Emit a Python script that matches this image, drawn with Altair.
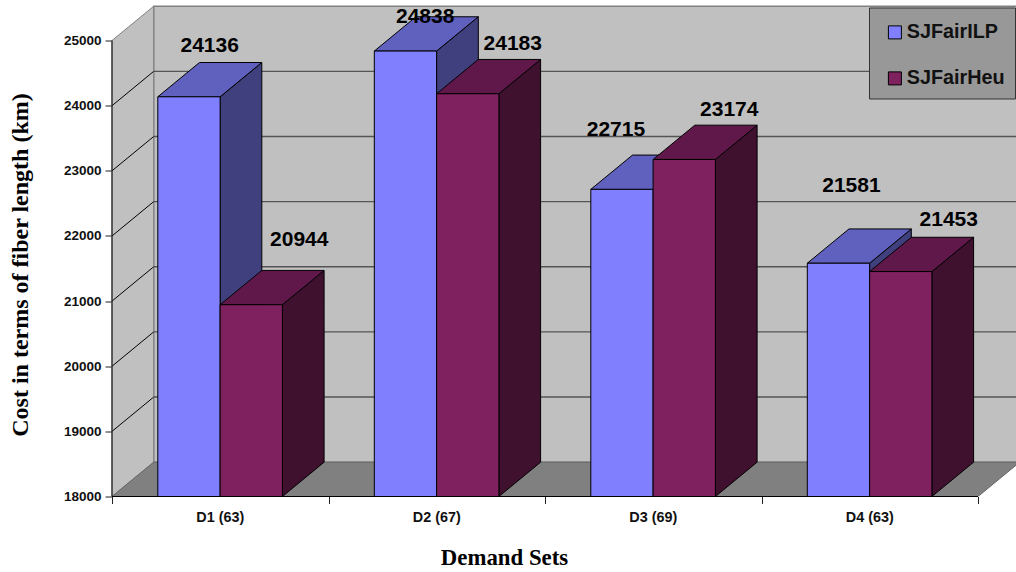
import altair as alt
import pandas as pd

# Chart values
categories = ["D1 (63)", "D2 (67)", "D3 (69)", "D4 (63)"]
series_names = ["SJFairILP", "SJFairHeu"]
sjfair_ilp = [24136, 24838, 22715, 21581]
sjfair_heu = [20944, 24183, 23174, 21453]
y_ticks = [18000, 19000, 20000, 21000, 22000, 23000, 24000, 25000]

# Pseudo-3D geometry, in axis units
CAT_PX = 216.5
PX_PER_1000 = 65.14
PLOT_W, PLOT_H = 904, 496
DEPTH_X = 41.7 / CAT_PX
DEPTH_Y = 34.3 / PX_PER_1000 * 1000
GAP = 45.8 / CAT_PX
BAR_W = 62.3 / CAT_PX
Y0 = y_ticks[0]
YN = y_ticks[-1]
N = len(categories)

FACE_COLORS = {
    "SJFairILP": {"front": "#8080FF", "top": "#6060BF", "side": "#40407F"},
    "SJFairHeu": {"front": "#7F205F", "top": "#60184A", "side": "#40102F"},
}
# Hand-placed value labels: pixel nudge from the top of each front face
NUDGE = {
    "SJFairILP": [(20.7, -50.5), (19.7, -34.5), (-6, -59.5), (13, -77.5)],
    "SJFairHeu": [(48, -64.5), (45, -49.5), (45, -49.5), (48, -51.5)],
}

x_scale = alt.Scale(domain=[0, PLOT_W / CAT_PX], nice=False, zero=False)
y_scale = alt.Scale(domain=[Y0, Y0 + PLOT_H / PX_PER_1000 * 1000], nice=False, zero=False)

axis_x = alt.Axis(
    values=list(range(N + 1)),
    labels=False,
    grid=False,
    domain=False,
    tickColor="#222222",
    tickSize=7,
    title="Demand Sets",
    titleFont="Liberation Serif",
    titleFontSize=22.8,
    titleFontWeight="bold",
    titleColor="#000000",
    titleAnchor="start",
    titleAlign="center",
    titleBaseline="middle",
    titleX=392,
    titleY=61,
)
axis_y = alt.Axis(
    values=y_ticks,
    grid=False,
    domain=False,
    tickColor="#222222",
    tickSize=7,
    labelFont="Liberation Sans",
    labelFontWeight="bold",
    labelFontSize=13.5,
    labelColor="#111111",
    labelPadding=4,
    format="d",
    title="Cost in terms of fiber length (km)",
    titleFont="Liberation Serif",
    titleFontSize=24,
    titleFontWeight="bold",
    titleColor="#000000",
    titleAnchor="start",
    titleAlign="center",
    titleBaseline="middle",
    titleAngle=270,
    titleX=-92,
    titleY=264,
)


def X(field="x", **kw):
    return alt.X(f"{field}:Q", scale=x_scale, axis=axis_x, **kw)


def Y(field="y", **kw):
    return alt.Y(f"{field}:Q", scale=y_scale, axis=axis_y, **kw)


def sheared(x0, x1, low, high):
    """Rows of a face whose horizontal edges lean by the chart depth."""
    return pd.DataFrame(
        [
            {"x": x0, "x2": x1, "y": low},
            {"x": x0 + DEPTH_X, "x2": x1 + DEPTH_X, "y": high},
        ]
    )


def hface(df, color, **mark):
    return (
        alt.Chart(df)
        .mark_area(orient="horizontal", color=color, **mark)
        .encode(y=Y(stack=None), x=X(stack=None), x2="x2:Q", detail="g:N")
    )


def vface(df, color, **mark):
    return (
        alt.Chart(df)
        .mark_area(orient="vertical", color=color, **mark)
        .encode(x=X(stack=None), y=Y(stack=None), y2="y2:Q", detail="g:N")
    )


# Walls and floor
back_wall = pd.DataFrame(
    [{"x": DEPTH_X, "x2": N + DEPTH_X, "y": Y0 + DEPTH_Y, "y2": YN + DEPTH_Y}]
)
layers = [
    alt.Chart(back_wall)
    .mark_rect(color="#C0C0C0", stroke="#808080", strokeWidth=1.5, clip=True)
    .encode(x=X(), x2="x2:Q", y=Y(), y2="y2:Q")
]

left_wall = pd.DataFrame(
    [
        {"x": 0, "y": Y0, "y2": YN, "g": "w"},
        {"x": DEPTH_X, "y": Y0 + DEPTH_Y, "y2": YN + DEPTH_Y, "g": "w"},
    ]
)
layers.append(vface(left_wall, "#C0C0C0", stroke="#808080", strokeWidth=1))

floor = sheared(0, N, Y0, Y0 + DEPTH_Y).assign(g="f")
layers.append(hface(floor, "#808080", stroke="#666666", strokeWidth=1, clip=True))

# Gridlines: one run across the left wall, one along the back wall
grid_levels = [v for v in y_ticks if Y0 < v < YN]
wall_rows, back_rows = [], []
for v in grid_levels:
    wall_rows += [{"x": 0, "y": v, "g": v, "k": 0}, {"x": DEPTH_X, "y": v + DEPTH_Y, "g": v, "k": 1}]
    back_rows += [
        {"x": DEPTH_X, "y": v + DEPTH_Y, "g": v, "k": 0},
        {"x": N + DEPTH_X, "y": v + DEPTH_Y, "g": v, "k": 1},
    ]
layers.append(
    alt.Chart(pd.DataFrame(wall_rows))
    .mark_line(color="#000000", strokeWidth=1)
    .encode(x=X(), y=Y(), detail="g:N", order="k:Q")
)
layers.append(
    alt.Chart(pd.DataFrame(back_rows))
    .mark_line(color="#555555", strokeWidth=1.4, clip=True)
    .encode(x=X(), y=Y(), detail="g:N", order="k:Q")
)

# Bars, back to front within each group
records = []
for i, cat in enumerate(categories):
    for s, (name, vals) in enumerate(zip(series_names, (sjfair_ilp, sjfair_heu))):
        left = i + GAP + s * BAR_W
        records.append(
            {
                "cat": cat,
                "series": name,
                "value": vals[i],
                "x": left,
                "x2": left + BAR_W,
                "xc": left + BAR_W / 2,
                "base": Y0,
                "nudge": NUDGE[name][i],
            }
        )

# A blank legend title pushes the rows down so the box stays tight at the bottom
legend = alt.Legend(
    title=" ",
    titleFontSize=5,
    titleLineHeight=5,
    titlePadding=0,
    orient="none",
    legendX=757,
    legendY=7,
    fillColor="#989898",
    strokeColor="#333333",
    padding=10,
    symbolType="square",
    symbolSize=169,
    symbolStrokeWidth=1,
    symbolOffset=6,
    labelFont="Liberation Sans",
    labelFontWeight="bold",
    labelFontSize=19.8,
    labelColor="#111111",
    labelOffset=2,
    rowPadding=25,
    labelLimit=200,
)
color = alt.Color(
    "series:N",
    scale=alt.Scale(domain=series_names, range=[FACE_COLORS[n]["front"] for n in series_names]),
    legend=legend,
)

bar_edge = dict(stroke="#000000", strokeWidth=1)
for name in series_names:
    rows = [r for r in records if r["series"] == name]
    side, top = [], []
    for r in rows:
        side += [
            {"x": r["x2"], "y": r["base"], "y2": r["value"], "g": r["cat"]},
            {"x": r["x2"] + DEPTH_X, "y": r["base"] + DEPTH_Y, "y2": r["value"] + DEPTH_Y, "g": r["cat"]},
        ]
        top.append(sheared(r["x"], r["x2"], r["value"], r["value"] + DEPTH_Y).assign(g=r["cat"]))
    layers.append(vface(pd.DataFrame(side), FACE_COLORS[name]["side"], **bar_edge))
    layers.append(hface(pd.concat(top), FACE_COLORS[name]["top"], **bar_edge))
    front = pd.DataFrame([{k: v for k, v in r.items() if k != "nudge"} for r in rows])
    layers.append(
        alt.Chart(front)
        .mark_rect(**bar_edge)
        .encode(x=X(), x2="x2:Q", y=Y("base"), y2="value:Q", color=color)
    )

# Axis lines in front of the floor
axis_lines = pd.DataFrame([{"x": 0, "x2": N, "y": Y0, "y2": YN}])
layers.append(
    alt.Chart(axis_lines)
    .mark_rule(color="#000000", strokeWidth=1.2)
    .encode(x=X(), x2="x2:Q", y=Y())
)
layers.append(
    alt.Chart(axis_lines)
    .mark_rule(color="#222222", strokeWidth=1.2)
    .encode(x=X(), y=Y(), y2="y2:Q")
)

# Value labels
for r in records:
    nx, ny = r["nudge"]
    layers.append(
        alt.Chart(pd.DataFrame([{"xc": r["xc"], "value": r["value"]}]))
        .mark_text(
            font="Liberation Sans",
            fontWeight="bold",
            fontSize=21,
            color="#000000",
            dx=nx,
            dy=ny,
            align="center",
            baseline="middle",
        )
        .encode(x=X("xc"), y=Y("value"), text=alt.Text("value:Q", format="d"))
    )

# Category labels under the axis
cat_df = pd.DataFrame({"cat": categories, "xc": [i + 0.5 for i in range(N)], "y": [Y0] * N})
layers.append(
    alt.Chart(cat_df)
    .mark_text(
        font="Liberation Sans",
        fontWeight="bold",
        fontSize=14.4,
        color="#111111",
        dy=21,
        align="center",
        baseline="middle",
    )
    .encode(x=X("xc"), y=Y(), text="cat:N")
)

chart = (
    alt.layer(*layers)
    .properties(
        width=PLOT_W,
        height=PLOT_H,
        padding={"left": 112, "top": 0.5, "right": 0, "bottom": 75.5},
        autosize=alt.AutoSizeParams(type="none"),
        background="#FFFFFF",
    )
    .configure_view(stroke=None)
)

chart.save("out.html", embed_options={"renderer": "svg", "actions": False})
